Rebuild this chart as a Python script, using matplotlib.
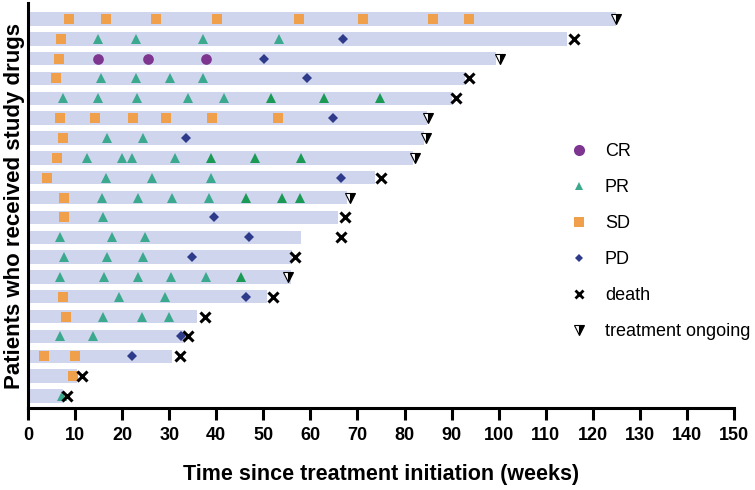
import matplotlib
matplotlib.use("Agg")
import matplotlib.pyplot as plt
from matplotlib.lines import Line2D

# one entry per patient, top row first (weeks)
bar_end = [125.0, 114.5, 99.5, 92.8, 90.0, 84.7, 84.2, 81.8, 73.7, 67.7,
           65.8, 58.0, 56.0, 55.8, 50.7, 35.8, 33.3, 30.5, 10.4, 7.5]

cr = [[], [], [14.9, 25.4, 37.8], [], [], [], [], [], [], [],
      [], [], [], [], [], [], [], [], [], []]

pr = [[], [14.9, 22.9, 37.1, 53.4], [], [15.6, 22.9, 30.2, 37.1],
      [7.4, 14.8, 23.2, 34.0, 41.6], [], [16.8, 24.5], [12.6, 19.9, 22.2, 31.3],
      [16.5, 26.3, 38.8], [15.8, 23.3, 30.5, 38.5], [16.0], [6.8, 17.8, 24.8],
      [7.6, 16.8, 24.4], [6.8, 16.1, 23.4, 30.3, 37.9], [19.3, 29.2],
      [15.9, 24.3, 30.0], [6.8, 13.9], [], [], [7.2]]

# later PR assessments are drawn in a darker green in the original
pr_late = [[], [], [], [], [51.6, 62.9, 74.8], [], [], [38.8, 48.2, 57.9],
           [], [46.4, 54.0, 57.8], [], [], [], [45.2], [], [], [], [], [], []]

sd = [[8.8, 16.6, 27.1, 40.1, 57.6, 71.1, 86.1, 93.7], [7.0], [6.6], [5.9], [],
      [6.7, 14.2, 22.4, 29.4, 39.1, 53.2], [7.4], [6.1], [4.1], [7.7],
      [7.7], [], [], [], [7.5], [8.0], [], [3.4, 10.0], [9.6], []]

pd_ = [[], [67.0], [50.2], [59.3], [], [64.7], [33.6], [], [66.4], [],
       [39.5], [47.0], [34.8], [], [46.4], [], [32.5], [22.0], [], []]

death = [None, 116.0, None, 93.7, 91.0, None, None, None, 75.1, None,
         67.3, 66.6, 56.7, None, 52.0, 37.6, 33.9, 32.3, 11.4, 8.2]

ongoing = [125.0, None, 100.2, None, None, 85.0, 84.5, 82.2, None, 68.4,
           None, None, None, 55.3, None, None, None, None, None, None]

c_bar = "#d0d5ee"
c_cr = "#7d3590"
c_pr = "#3aa98d"
c_pr2 = "#1a9a55"
c_sd = "#f0a04b"
c_pd = "#2e3a8a"

plt.rcParams["font.family"] = ["Liberation Sans", "DejaVu Sans"]

fig = plt.figure(figsize=(7.55, 4.90), dpi=100)
ax = fig.add_axes([0.0371, 0.1667, 0.9351, 0.8262])

n = len(bar_end)
ypos = [n - i for i in range(n)]

ax.barh(ypos, bar_end, height=0.675, color=c_bar, zorder=1)

for y, d in zip(ypos, cr):
    ax.plot(d, [y] * len(d), "o", color=c_cr, ms=7.7, mew=0, zorder=3)
for y, d in zip(ypos, pr):
    ax.plot(d, [y] * len(d), "^", color=c_pr, ms=7.2, mew=0, zorder=3)
for y, d in zip(ypos, pr_late):
    ax.plot(d, [y] * len(d), "^", color=c_pr2, ms=7.2, mew=0, zorder=3)
for y, d in zip(ypos, sd):
    ax.plot(d, [y] * len(d), "s", color=c_sd, ms=7.2, mew=0, zorder=3)
for y, d in zip(ypos, pd_):
    ax.plot(d, [y] * len(d), "D", color=c_pd, ms=5.0, mew=0, zorder=3)

dy = [y for y, d in zip(ypos, death) if d is not None]
dx = [d for d in death if d is not None]
ax.plot(dx, dy, "x", color="black", ms=7, mew=2.2, zorder=4)

oy = [y for y, o in zip(ypos, ongoing) if o is not None]
ox = [o for o in ongoing if o is not None]
ax.plot(ox, oy, "v", ms=7.5, fillstyle="right", markerfacecolor="black",
        markerfacecoloralt="white", markeredgecolor="black", mew=0.8, zorder=4)

ax.set_xlim(0, 150)
ax.set_ylim(0.38, n + 0.78)
ax.set_xticks(range(0, 151, 10))
ax.set_yticks([])
for s in ["top", "right"]:
    ax.spines[s].set_visible(False)
for s in ["left", "bottom"]:
    ax.spines[s].set_linewidth(2.2)
ax.tick_params(axis="x", length=8.5, width=2.2, pad=5)
for lab in ax.get_xticklabels():
    lab.set_fontsize(13)
    lab.set_fontweight("bold")

ax.set_xlabel("Time since treatment initiation (weeks)", fontsize=15.5,
              fontweight="bold", labelpad=14)
ax.set_ylabel("Patients who received study drugs", fontsize=16,
              fontweight="bold", labelpad=2)

handles = [
    Line2D([], [], ls="", marker="o", color=c_cr, ms=8, mew=0),
    Line2D([], [], ls="", marker="^", color=c_pr, ms=6, mew=0),
    Line2D([], [], ls="", marker="s", color=c_sd, ms=6.5, mew=0),
    Line2D([], [], ls="", marker="D", color=c_pd, ms=4.2, mew=0),
    Line2D([], [], ls="", marker="x", color="black", ms=6, mew=2),
    Line2D([], [], ls="", marker="v", ms=6.5, fillstyle="right",
           markerfacecolor="black", markerfacecoloralt="white",
           markeredgecolor="black", mew=0.8),
]
labels = ["CR", "PR", "SD", "PD", "death", "treatment ongoing"]
fig.legend(handles, labels, loc="upper left", bbox_to_anchor=(0.7544, 0.708),
           frameon=False, fontsize=13, handlelength=1.0, handletextpad=0.95,
           labelspacing=1.05, borderpad=0, borderaxespad=0)

fig.savefig("out.png", dpi=100)
